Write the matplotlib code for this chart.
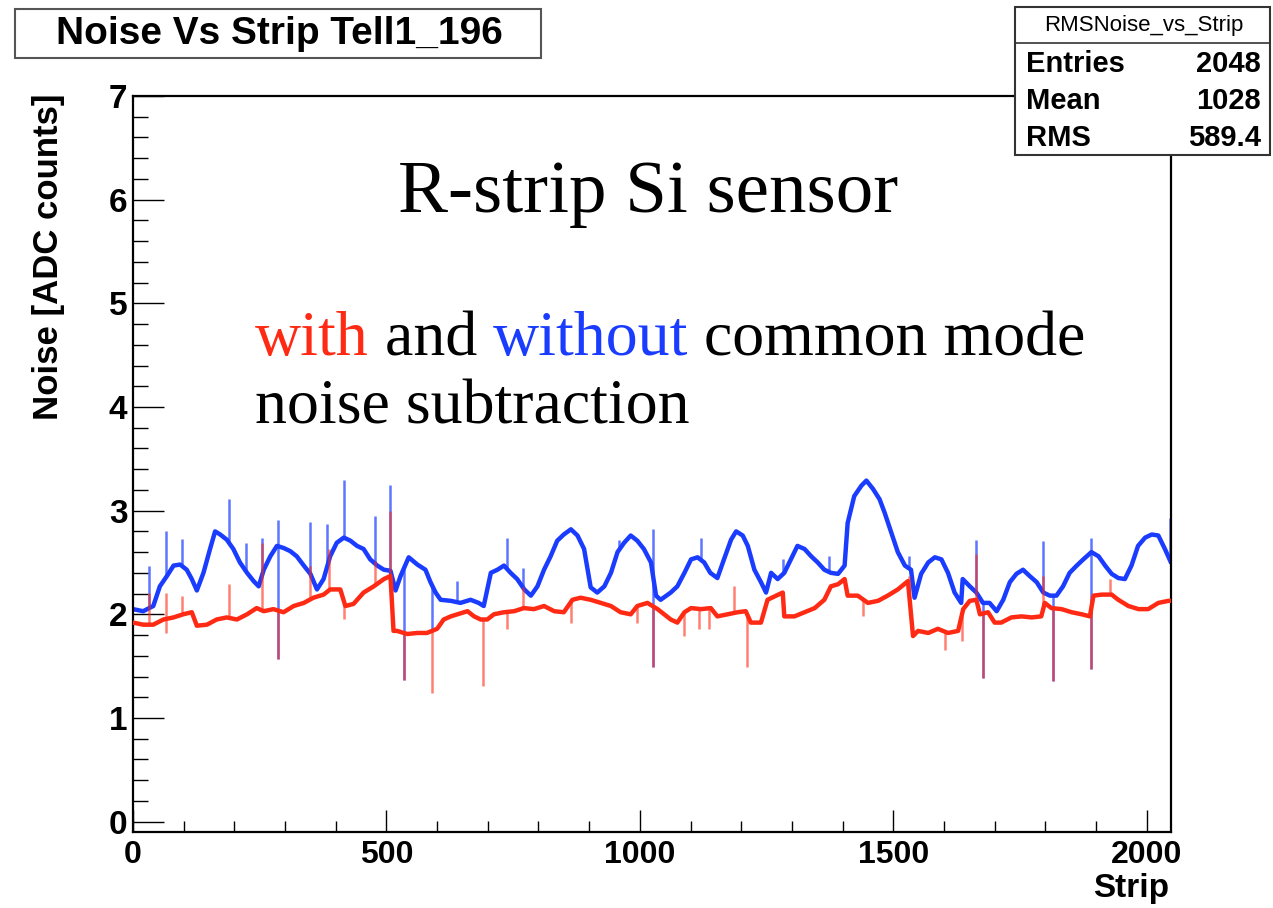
import numpy as np
import matplotlib
matplotlib.use("Agg")
import matplotlib.pyplot as plt
from matplotlib.patches import Rectangle
from matplotlib.lines import Line2D
from matplotlib.ticker import MultipleLocator

# ---------------- data ----------------
blue_strip = [0, 20, 40, 53, 67, 80, 93, 106, 116, 126, 139, 152, 162, 172, 185, 198, 211, 225, 238, 248,
              258, 271, 284, 297, 310, 323, 337, 350, 363, 376, 389, 402, 416, 429, 442, 455, 468, 482, 495, 508,
              518, 528, 544, 561, 577, 587, 597, 607, 627, 646, 666, 682, 692, 706, 719, 732, 745, 758, 772, 785,
              798, 811, 824, 837, 850, 864, 877, 890, 903, 916, 930, 943, 956, 969, 982, 995, 1008, 1022, 1032, 1041,
              1061, 1074, 1088, 1101, 1114, 1127, 1139, 1153, 1166, 1180, 1190, 1203, 1213, 1226, 1239, 1249, 1259, 1272, 1285, 1298,
              1311, 1325, 1338, 1351, 1364, 1377, 1391, 1404, 1410, 1423, 1437, 1447, 1460, 1473, 1483, 1496, 1509, 1523, 1535, 1542,
              1555, 1569, 1582, 1595, 1608, 1621, 1634, 1637, 1651, 1664, 1677, 1690, 1704, 1717, 1730, 1743, 1756, 1769, 1783, 1796,
              1809, 1822, 1835, 1848, 1862, 1875, 1891, 1905, 1918, 1931, 1944, 1957, 1970, 1983, 1997, 2010, 2023, 2036, 2047]
blue_value = [2.05, 2.03, 2.08, 2.27, 2.37, 2.47, 2.48, 2.43, 2.34, 2.23, 2.40, 2.63, 2.80, 2.77, 2.72, 2.63, 2.50, 2.40, 2.32, 2.27,
              2.43, 2.56, 2.66, 2.64, 2.61, 2.56, 2.47, 2.39, 2.24, 2.34, 2.56, 2.69, 2.74, 2.71, 2.66, 2.63, 2.53, 2.47, 2.43, 2.42,
              2.23, 2.37, 2.55, 2.48, 2.43, 2.31, 2.21, 2.14, 2.13, 2.11, 2.14, 2.11, 2.08, 2.40, 2.43, 2.47, 2.40, 2.34, 2.24, 2.18,
              2.27, 2.43, 2.56, 2.71, 2.77, 2.82, 2.76, 2.63, 2.26, 2.21, 2.27, 2.40, 2.60, 2.69, 2.76, 2.71, 2.63, 2.50, 2.18, 2.14,
              2.21, 2.27, 2.40, 2.53, 2.55, 2.50, 2.40, 2.35, 2.53, 2.72, 2.80, 2.76, 2.66, 2.43, 2.31, 2.21, 2.40, 2.34, 2.40, 2.53,
              2.66, 2.63, 2.56, 2.50, 2.43, 2.40, 2.39, 2.47, 2.88, 3.14, 3.24, 3.29, 3.21, 3.11, 2.98, 2.79, 2.60, 2.47, 2.43, 2.16,
              2.39, 2.50, 2.55, 2.53, 2.40, 2.21, 2.11, 2.34, 2.27, 2.21, 2.11, 2.11, 2.03, 2.14, 2.31, 2.39, 2.43, 2.37, 2.31, 2.21,
              2.18, 2.18, 2.27, 2.40, 2.47, 2.53, 2.60, 2.56, 2.47, 2.39, 2.35, 2.34, 2.47, 2.66, 2.74, 2.77, 2.76, 2.63, 2.51]

red_strip = [0, 20, 40, 60, 80, 99, 116, 126, 146, 165, 185, 205, 225, 244, 258, 277, 297, 317, 337, 356,
             376, 389, 409, 419, 435, 455, 475, 495, 508, 514, 521, 541, 561, 580, 600, 613, 627, 640, 660, 673,
             686, 699, 712, 732, 752, 771, 791, 811, 831, 850, 867, 883, 903, 923, 943, 962, 982, 995, 1015, 1025,
             1035, 1048, 1061, 1074, 1088, 1101, 1121, 1140, 1153, 1173, 1193, 1209, 1219, 1239, 1252, 1269, 1282, 1285, 1305, 1325,
             1345, 1364, 1377, 1391, 1404, 1410, 1430, 1450, 1470, 1489, 1509, 1529, 1539, 1549, 1569, 1588, 1608, 1628, 1638, 1651,
             1664, 1671, 1687, 1700, 1713, 1733, 1753, 1773, 1792, 1799, 1812, 1832, 1852, 1872, 1888, 1895, 1911, 1931, 1944, 1964,
             1984, 2003, 2023, 2043, 2047]
red_value = [1.92, 1.90, 1.90, 1.95, 1.97, 2.00, 2.02, 1.89, 1.90, 1.95, 1.97, 1.95, 2.00, 2.06, 2.03, 2.05, 2.02, 2.08, 2.11, 2.16,
             2.19, 2.24, 2.24, 2.08, 2.10, 2.21, 2.27, 2.34, 2.37, 1.84, 1.84, 1.81, 1.82, 1.82, 1.86, 1.95, 1.98, 2.00, 2.03, 1.98,
             1.95, 1.95, 2.00, 2.02, 2.03, 2.06, 2.05, 2.08, 2.03, 2.02, 2.14, 2.16, 2.14, 2.11, 2.08, 2.02, 2.00, 2.08, 2.11, 2.08,
             2.05, 2.00, 1.95, 1.92, 2.02, 2.06, 2.05, 2.06, 1.98, 2.00, 2.02, 2.03, 1.92, 1.92, 2.14, 2.18, 2.21, 1.98, 1.98, 2.02,
             2.06, 2.14, 2.27, 2.29, 2.34, 2.18, 2.18, 2.11, 2.13, 2.18, 2.24, 2.32, 1.79, 1.84, 1.82, 1.86, 1.82, 1.84, 2.05, 2.13,
             2.14, 2.00, 2.02, 1.92, 1.92, 1.97, 1.98, 1.97, 1.98, 2.11, 2.06, 2.05, 2.02, 2.00, 1.98, 2.18, 2.19, 2.19, 2.14, 2.08,
             2.05, 2.05, 2.11, 2.13, 2.13]

# single-strip outliers (strip, noise)
blue_spike_strip = [32, 65, 96, 190, 223, 254, 287, 287, 350, 383, 416, 478, 508, 534, 590, 640, 737, 770, 959,
                    1025, 1025, 1121, 1282, 1374, 1532, 1664, 1677, 1796, 1816, 1891, 1891, 2047]
blue_spike_value = [2.47, 2.80, 2.73, 3.11, 2.69, 2.74, 2.91, 1.57, 2.89, 2.87, 3.30, 2.95, 3.25, 1.37, 1.84, 2.32, 2.74, 2.45, 2.72,
                    2.82, 1.49, 2.74, 2.53, 2.56, 2.56, 2.72, 1.39, 2.71, 1.36, 2.74, 1.47, 2.93]
red_spike_strip = [32, 65, 65, 96, 190, 254, 287, 350, 386, 416, 478, 508, 534, 590, 691, 737, 770, 864, 995,
                   1025, 1088, 1117, 1137, 1186, 1211, 1440, 1532, 1602, 1635, 1664, 1677, 1796, 1816, 1891, 1927]
red_spike_value = [2.21, 2.21, 1.82, 2.18, 2.29, 2.69, 1.57, 2.47, 2.63, 1.95, 2.51, 3.00, 1.37, 1.24, 1.31, 1.86, 2.26, 1.92, 1.92,
                   1.49, 1.79, 1.86, 1.86, 2.27, 1.49, 1.98, 2.37, 1.66, 1.74, 2.58, 1.39, 2.37, 1.36, 1.47, 2.34]

x_major_ticks = [0, 500, 1000, 1500, 2000]
y_major_ticks = [0, 1, 2, 3, 4, 5, 6, 7]
stats_rows = [("Entries", "2048"), ("Mean", "1028"), ("RMS", "589.4")]

# ---------------- figure ----------------
W, H = 1273, 908
fig = plt.figure(figsize=(W / 100, H / 100), dpi=100)
fig.patch.set_facecolor("white")
SANS = ["Liberation Sans", "DejaVu Sans"]
SERIF = ["Liberation Serif", "DejaVu Serif"]

ax = fig.add_axes([133 / W, 1 - 832 / H, (1171 - 133) / W, (832 - 96) / H])
ax.set_xlim(0, 2048)
ax.set_ylim(-0.1, 7)

BLUE = "#1a3cff"
RED = "#ff2a14"

bs = np.array(blue_strip); bv = np.array(blue_value)
rs = np.array(red_strip); rv = np.array(red_value)

ax.plot(bs, bv, color=BLUE, lw=3.2, solid_joinstyle="round", zorder=2)
ax.vlines(blue_spike_strip, np.interp(blue_spike_strip, bs, bv), blue_spike_value,
          color=BLUE, lw=1.8, alpha=0.7, zorder=2)
ax.plot(rs, rv, color=RED, lw=3.2, solid_joinstyle="round", zorder=3)
ax.vlines(red_spike_strip, np.interp(red_spike_strip, rs, rv), red_spike_value,
          color=RED, lw=1.8, alpha=0.6, zorder=3)

for sp in ax.spines.values():
    sp.set_linewidth(1.6)
    sp.set_color("black")

ax.set_xticks(x_major_ticks)
ax.set_yticks(y_major_ticks)
ax.xaxis.set_minor_locator(MultipleLocator(100))
ax.yaxis.set_minor_locator(MultipleLocator(0.2))
ax.tick_params(axis="x", which="major", direction="in", length=16, width=1.0, pad=6, top=False)
ax.tick_params(axis="x", which="minor", direction="in", length=8, width=1.0, top=False)
ax.tick_params(axis="y", which="major", direction="in", length=22, width=1.0, pad=4, right=False)
ax.tick_params(axis="y", which="minor", direction="in", length=11, width=1.0, right=False)
for lab in ax.get_xticklabels():
    lab.set_fontfamily(SANS)
    lab.set_fontweight("bold")
    lab.set_fontsize(23)
for lab in ax.get_yticklabels():
    lab.set_fontfamily(SANS)
    lab.set_fontweight("bold")
    lab.set_fontsize(24)

fig.text(49 / W, 1 - 93 / H, "Noise [ADC counts]", rotation=90, ha="center", va="top",
         fontsize=25, fontweight="bold", family=SANS)
fig.text(1169 / W, 1 - 888 / H, "Strip", ha="right", va="center",
         fontsize=24, fontweight="bold", family=SANS)

# title box
fig.add_artist(Rectangle((15 / W, 1 - 58 / H), (541 - 15) / W, (58 - 9) / H, transform=fig.transFigure,
                         facecolor="white", edgecolor="#555555", lw=1.5, zorder=5))
fig.text(279 / W, 1 - 34 / H, "Noise Vs Strip Tell1_196", ha="center", va="center",
         fontsize=28, fontweight="bold", family=SANS, zorder=6)

# stats box
fig.add_artist(Rectangle((1015 / W, 1 - 155 / H), (1270 - 1015) / W, (155 - 7) / H, transform=fig.transFigure,
                         facecolor="white", edgecolor="#333333", lw=1.5, zorder=5))
fig.add_artist(Line2D([1015 / W, 1270 / W], [1 - 43 / H, 1 - 43 / H], transform=fig.transFigure,
                      color="#333333", lw=1.2, zorder=6))
fig.text(1144 / W, 1 - 25 / H, "RMSNoise_vs_Strip", ha="center", va="center",
         fontsize=16, family=SANS, zorder=6)
for i, (lab, val) in enumerate(stats_rows):
    y = 1 - (64 + i * 37) / H
    fig.text(1026 / W, y, lab, ha="left", va="center", fontsize=21, fontweight="bold", family=SANS, zorder=6)
    fig.text(1261 / W, y, val, ha="right", va="center", fontsize=21, fontweight="bold", family=SANS, zorder=6)

# annotations
fig.text(398 / W, 1 - 212 / H, "R-strip Si sensor", ha="left", va="baseline",
         fontsize=54, family=SERIF, color="black")

fig.canvas.draw()
renderer = fig.canvas.get_renderer()


def text_width(s, size):
    t1 = fig.text(0, 0, s + "x", fontsize=size, family=SERIF)
    t2 = fig.text(0, 0, "x", fontsize=size, family=SERIF)
    w = t1.get_window_extent(renderer).width - t2.get_window_extent(renderer).width
    t1.remove(); t2.remove()
    return w


def colored_line(x_px, y_px, parts, size):
    x = x_px
    for s, c in parts:
        fig.text(x / W, 1 - y_px / H, s, ha="left", va="baseline", fontsize=size, family=SERIF, color=c)
        x += text_width(s, size)


colored_line(255, 355, [("with", RED), (" and ", "black"), ("without", BLUE), (" common mode", "black")], 46)
colored_line(255, 423, [("noise subtraction", "black")], 46)

fig.savefig("out.png", dpi=100)
